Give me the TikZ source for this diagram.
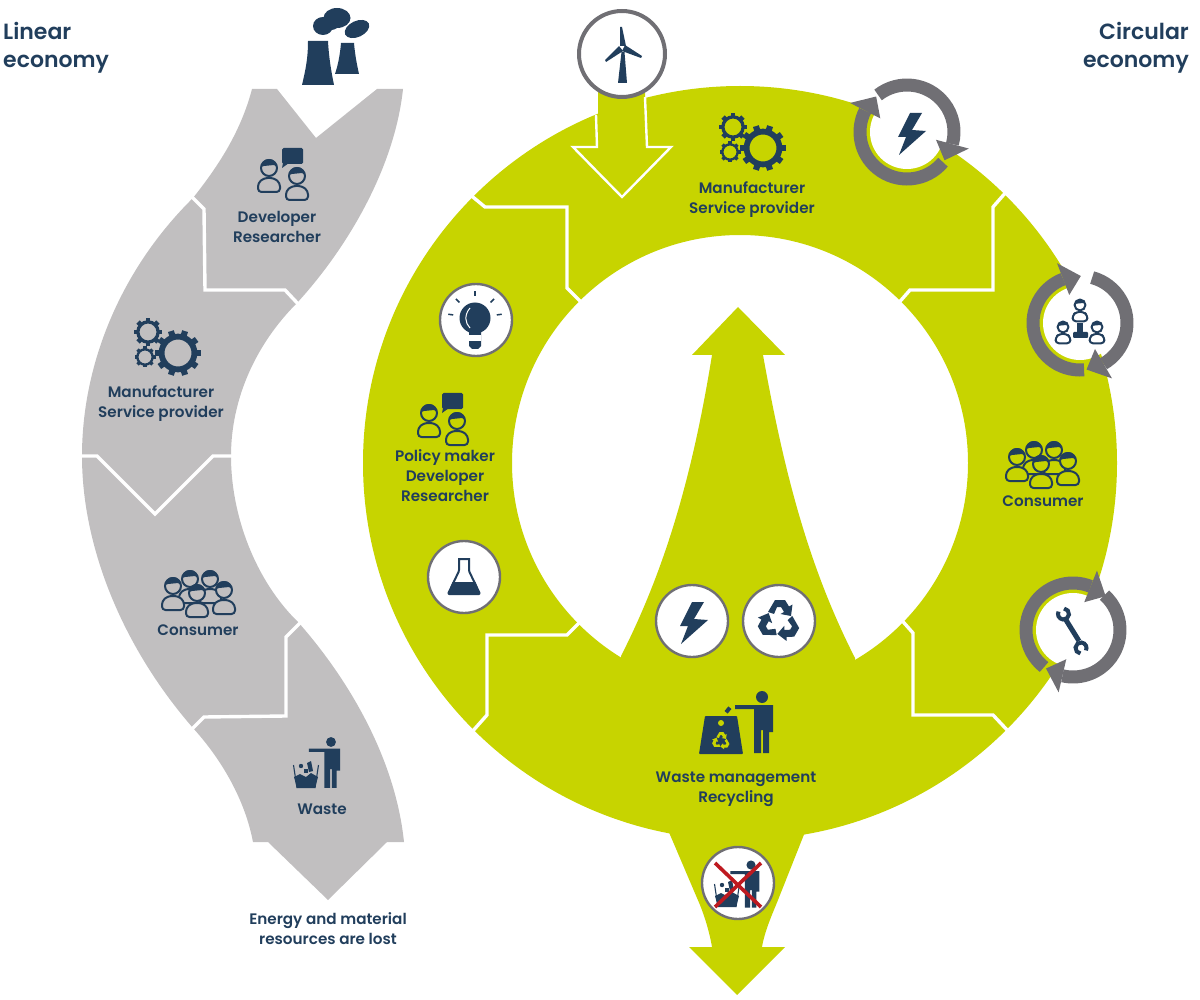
\documentclass[tikz,border=0pt]{standalone}
\usepackage{fontspec}
\setmainfont{Poppins}[BoldFont={Poppins SemiBold}]
\usetikzlibrary{calc}

\definecolor{navy}{HTML}{213E5C}
\definecolor{leaf}{HTML}{C7D400}
\definecolor{stone}{HTML}{C1BFC0}
\definecolor{ringgrey}{HTML}{706F74}
\definecolor{crossred}{HTML}{BE1A20}

\tikzset{
  lbl/.style={text=navy,align=center,inner sep=0pt,font=\fontsize{15.2}{20}\selectfont\bfseries},
  heading/.style={text=navy,inner sep=0pt,font=\fontsize{22}{28}\selectfont\bfseries},
  cutline/.style={draw=white,line width=3.4pt,miter limit=10},
  iconring/.style={circle,draw=ringgrey,fill=white,line width=2.4pt,minimum size=72pt,inner sep=0pt},
  windring/.style={circle,draw=ringgrey,fill=white,line width=4pt,minimum size=86pt,inner sep=0pt},
  outl/.style={draw=navy,line width=2pt,line join=round},
  solid/.style={fill=navy,draw=none}
}

% gear wheel: x, y, tip radius, hole radius, teeth
\newcommand{\gearwheel}[5]{
  \pgfmathsetmacro{\bodyr}{#3*0.84}
  \pgfmathsetmacro{\bandw}{\bodyr-#4}
  \pgfmathsetmacro{\toothw}{3.14*\bodyr/#5}
  \draw[navy,line width=\bandw pt] (#1,#2) circle[radius={(\bodyr+#4)/2}];
  \foreach \i in {1,...,#5}{
    \pgfmathsetmacro{\ang}{360*\i/#5}
    \draw[navy,line width=\toothw pt] (#1,#2) ++(\ang:\bodyr-1) -- ++(\ang:#3-\bodyr+1);
  }
}
\newcommand{\gearsicon}[2]{
  \gearwheel{#1}{#2}{23}{13.5}{10}
  \gearwheel{#1-30}{#2-21}{14}{8.5}{8}
  \gearwheel{#1-33}{#2+4}{10.5}{6.5}{8}
}
% one head and shoulders, origin in the head
\newcommand{\personicon}[4]{
  \begin{scope}[shift={(#1,#2)},scale=#3]
    \filldraw[outl,fill=#4,rounded corners=3.5pt] (-11,24) -- (-11,15) -- (-5,10) -- (5,10) -- (11,15) -- (11,24) -- cycle;
    \filldraw[outl,fill=#4] (0,0) circle[radius=8];
    \fill[navy] (-8,-1) arc[start angle=180,end angle=360,radius=8] -- (5,-3) -- (-5,-2) -- cycle;
  \end{scope}
}
\newcommand{\pairicon}[3]{
  \personicon{#1}{#2}{1}{#3}
  \personicon{#1+28}{#2+8}{1}{#3}
  \fill[navy,rounded corners=1.5pt] (#1+13,#2-20) rectangle (#1+34,#2-4);
  \fill[navy] (#1+14,#2-5) -- (#1+13,#2) -- (#1+20,#2-5) -- cycle;
}
\newcommand{\crowdicon}[3]{
  \personicon{#1+17}{#2-7}{1}{#3}
  \personicon{#1+37}{#2-7}{1}{#3}
  \personicon{#1}{#2}{1}{#3}
  \personicon{#1+51}{#2+4}{1}{#3}
  \personicon{#1+24}{#2+7}{1}{#3}
}
\newcommand{\boltshape}[2]{
  \fill[navy] (#1,#2) ++(0,-19) -- ++(12,0) -- ++(-10,17) -- ++(14,1) -- ++(-27,24) -- ++(7,-18) -- ++(-8,0) -- cycle;
}
\newcommand{\recycleshape}[4]{
  \begin{scope}[shift={(#1,#2)},scale=#3]
    \foreach \a in {0,120,240}{
      \fill[#4,rotate=\a] (-11,-9) -- (-4,-21) -- (6,-21) -- (10,-14.5) -- (13.5,-16.5) -- (12,-5) -- (1.5,-7) -- (5,-9) -- (2,-14) -- (-2,-14) -- (-5,-7) -- cycle;
    }
  \end{scope}
}
% man with the stretched arm, origin in the head
\newcommand{\trashman}[3]{
  \begin{scope}[shift={(#1,#2)},scale=#3]
    \fill[navy] (0,0) circle[radius=6];
    \fill[navy] (-27,8) -- (11,8) -- (11,35) -- (7,35) -- (7,56) -- (1,56) -- (1,33) -- (-1,33) -- (-1,56) -- (-8,56) -- (-8,12) -- (-27,12) -- cycle;
  \end{scope}
}
\newcommand{\smallbin}[3]{
  \begin{scope}[shift={(#1,#2)},scale=#3]
    \fill[navy] (-12,12) -- (-9,23) -- (9,23) -- (12,12) -- (5,8) -- (0,12) -- (-6,9) -- cycle;
    \draw[navy,line width=1.1pt] (-12.5,0) -- (-9,23) (12.5,0) -- (9,23);
    \fill[navy] (-5,1) circle[radius=2.2];
    \fill[navy] (1,-2) -- (5,-4) -- (7,6) -- (3,7) -- cycle;
    \fill[navy] (-2,4) rectangle (2,8);
  \end{scope}
}
% grey ring with two arrows: x, y, start/end of both arcs
\newcommand{\cyclearrows}[6]{
  \fill[white] (#1,#2) circle[radius=37];
  \draw[ringgrey,line width=13pt] (#1,#2) ++(#3:47) arc[start angle=#3,end angle=#4,radius=47];
  \draw[ringgrey,line width=13pt] (#1,#2) ++(#5:47) arc[start angle=#5,end angle=#6,radius=47];
  \fill[ringgrey] (#1,#2) ++(#4:30) -- ($(#1,#2)+(#4:64)$) -- ($(#1,#2)+(#4+22:47)$) -- cycle;
  \fill[ringgrey] (#1,#2) ++(#6:30) -- ($(#1,#2)+(#6:64)$) -- ($(#1,#2)+(#6+22:47)$) -- cycle;
}

\begin{document}
\begin{tikzpicture}[x=1pt,y=1pt,yscale=-1]
  \useasboundingbox (0,0) rectangle (1200,1000);

  % linear band
  \fill[stone] (252,89) -- (277,89) -- (316,138) -- (377,89) -- (403,89)
    .. controls (395,165) and (350,245) .. (297,303)
    .. controls (255,345) and (231,400) .. (231,456)
    .. controls (231,515) and (255,580) .. (298,622)
    .. controls (345,675) and (395,755) .. (404,842)
    -- (387,842) -- (328,900) -- (268,842) -- (253,842)
    .. controls (245,800) and (222,760) .. (193,728)
    .. controls (125,650) and (82,550) .. (82,456)
    .. controls (82,365) and (120,270) .. (193,198)
    .. controls (215,170) and (240,135) .. (252,89) -- cycle;
  \draw[cutline] (188,193) -- (204,209) -- (205,290) -- (285,290) -- (301,307);
  \draw[cutline] (78,456) -- (97,456) -- (155,514) -- (213,456) -- (235,456);
  \draw[cutline] (188,733) -- (204,717) -- (286,716) -- (286,637) -- (302,621);

  % circular band
  \fill[leaf,even odd rule] (740,463) circle[radius=377] (740,463) circle[radius=228];
  \fill[leaf] (621,656) .. controls (670,560) and (695,460) .. (712,355) -- (692,355) -- (738,307)
    -- (785,355) -- (763,355) .. controls (782,460) and (805,560) .. (855,658) -- (855,705) -- (621,705) -- cycle;
  \fill[leaf] (668,830) -- (700,905) .. controls (706,920) and (710,935) .. (712,947) -- (689,947) -- (737,995)
    -- (785,947) -- (762,947) .. controls (765,930) and (772,915) .. (778,900) -- (805,832) -- cycle;
  \fill[leaf] (598,90) -- (645,90) -- (645,110) -- (598,125) -- cycle;
  \draw[cutline] (468,193) -- (485,207) -- (567,207) -- (567,288) -- (584,305);
  \draw[cutline] (1007,191) -- (993,207) -- (993,290) -- (910,290) -- (896,306);
  \draw[cutline] (898,616) -- (913,633) -- (913,715) -- (993,715) -- (1009,732);
  \draw[cutline] (471,733) -- (487,715) -- (487,635) -- (567,635) -- (584,618);
  \draw[draw=white,line width=2.4pt] (596,115) -- (597,147) -- (573,147) -- (622,197) -- (671,147) -- (647,147) -- (645,97);

  % titles
  \node[heading,anchor=west,align=left] (lintitle) at (3,48) {Linear\\economy};
  \node[heading,anchor=east,align=right] (circtitle) at (1189,48) {Circular\\economy};

  % factory
  \fill[navy] (308,41) -- (328,41) .. controls (329,60) and (332,75) .. (334,85) -- (302,85) .. controls (305,72) and (308,60) .. (308,41) -- cycle;
  \fill[navy] (341,43) -- (354,43) .. controls (355,55) and (357,65) .. (359,74) -- (335,74) .. controls (338,65) and (340,55) .. (341,43) -- cycle;
  \fill[navy] (337,18) ellipse[x radius=13.5,y radius=10];
  \fill[navy] (323,26) ellipse[x radius=10,y radius=9];
  \fill[navy] (331,24) ellipse[x radius=8,y radius=6];
  \fill[navy,rotate around={-25:(357,29)}] (357,29) ellipse[x radius=13,y radius=8];

  % linear icons
  \pairicon{269}{168}{stone}
  \gearsicon{178}{353}
  \crowdicon{173}{586}{stone}
  \trashman{331}{742}{0.82}
  \smallbin{306}{765}{1}

  % circular icons
  \node[windring] (windnode) at (622,54) {};
  \fill[navy] (618,83) -- (621.5,52) -- (624.5,52) -- (627,83) -- cycle;
  \fill[navy] (620,27) -- (622,27) -- (626,46) -- (620,46) -- cycle;
  \fill[navy] (642,56) -- (641,58) -- (622,51) -- (625,45) -- cycle;
  \fill[navy] (605,60) -- (606,62) -- (623,51) -- (619,46) -- cycle;

  \gearsicon{763}{148}
  \pairicon{429}{413}{leaf}
  \crowdicon{1017}{457}{leaf}

  \node[iconring] (bulbnode) at (476,320) {};
  \fill[navy] (475,318) circle[radius=15.5];
  \fill[navy] (469,330) -- (481,330) -- (481,346) -- (478,349) -- (472,349) -- (469,346) -- cycle;
  \fill[white] (469,335) rectangle (481,341);
  \draw[white,line width=1pt] (470,308) .. controls (464,315) and (465,323) .. (470,328);
  \foreach \a in {-90,-45,-135,-8,-172}{
    \draw[navy,line width=1.5pt] (475,318) ++(\a:22) -- ++(\a:5);
  }

  \node[iconring] (flasknode) at (464,577) {};
  \draw[outl,rounded corners=1pt] (458,559) -- (470,559) (459,560) -- (459,571) -- (448,594) -- (480,594) -- (469,571) -- (469,560);
  \fill[navy] (452.5,582) -- (475.5,582) -- (480,594) -- (448,594) -- cycle;

  \node[iconring] (boltnode) at (692,621) {};
  \boltshape{692}{621}
  \node[iconring] (recyclenode) at (779,621) {};
  \recycleshape{779}{621}{1}{navy}

  % cycles on the rim
  \cyclearrows{907}{132}{232}{375}{40}{207}
  \boltshape{910}{132}
  \cyclearrows{1080}{323}{285}{420}{85}{249}
  \personicon{1080}{305}{0.68}{white}
  \personicon{1063}{327}{0.68}{white}
  \personicon{1097}{327}{0.68}{white}
  \fill[navy] (1077,323) rectangle (1083,333);
  \fill[navy,rounded corners=1pt] (1073,332) rectangle (1088,338);
  \cyclearrows{1073}{630}{128}{292}{312}{463}
  \draw[navy,line width=5pt] (1066,620) -- (1079,641);
  \draw[navy,line width=4pt] (1063.5,614) ++(276:5.5) arc[start angle=276,end angle=566,radius=5.5];
  \draw[navy,line width=4pt] (1081,648) ++(96:5.5) arc[start angle=96,end angle=386,radius=5.5];

  % waste management
  \fill[navy,rounded corners=0.8pt] (705,716) -- (737,716) -- (743,754) -- (699,754) -- cycle;
  \fill[navy,rotate around={-50:(728,710)}] (725,708) rectangle (731,712);
  \fill[leaf] (721,723) circle[radius=3];
  \recycleshape{721}{741}{0.42}{leaf}
  \trashman{762}{697}{1}

  \node[iconring] (banode) at (738,883) {};
  \trashman{751}{865}{0.76}
  \smallbin{727}{884}{1}
  \draw[crossred,line width=3.6pt] (715,863) -- (761,907) (761,863) -- (715,907);

  % labels
  \node[lbl] (devl) at (277,227) {Developer\\Researcher};
  \node[lbl] (manl) at (161,404) {Manufacturer\\Service provider};
  \node[lbl] (conl) at (198,630) {Consumer};
  \node[lbl] (wasl) at (322,809) {Waste};
  \node[lbl] (lostl) at (328,929) {Energy and material\\resources are lost};
  \node[lbl] (manr) at (752,200) {Manufacturer\\Service provider};
  \node[lbl] (polr) at (445,476) {Policy maker\\Developer\\Researcher};
  \node[lbl] (conr) at (1043,501) {Consumer};
  \node[lbl] (wasr) at (736,789) {Waste management\\Recycling};
\end{tikzpicture}
\end{document}
